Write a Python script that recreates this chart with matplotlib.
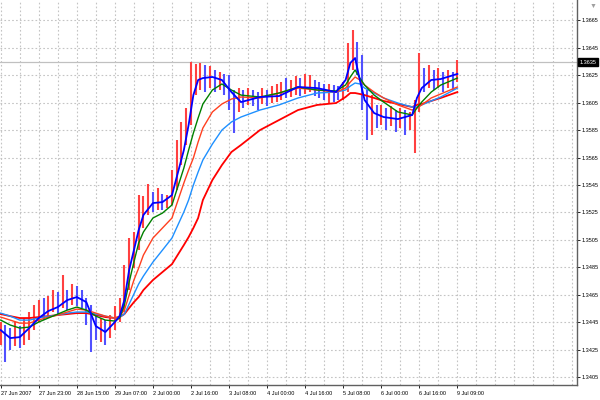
import numpy as np
import matplotlib.pyplot as plt
import matplotlib.transforms as mtransforms

########  data  ########

# price bars (one every 2 hours), x = bar index in hours
bar_high = [1.34451, 1.34429, 1.34407, 1.34451, 1.34421, 1.34480, 1.34524, 1.34575, 1.34611, 1.34626,
            1.34640, 1.34684, 1.34669, 1.34793, 1.34684, 1.34728, 1.34713, 1.34684, 1.34626, 1.34575,
            1.34502, 1.34480, 1.34465, 1.34502, 1.34567, 1.34626, 1.34866, 1.35063, 1.35107, 1.35376,
            1.35369, 1.35457, 1.35398, 1.35427, 1.35384, 1.35376, 1.35559, 1.35777, 1.35909, 1.36011,
            1.36346, 1.36331, 1.36339, 1.36324, 1.36317, 1.36288, 1.36273, 1.36259, 1.36251, 1.36142,
            1.36156, 1.36142, 1.36156, 1.36142, 1.36127, 1.36156, 1.36142, 1.36171, 1.36186, 1.36200,
            1.36229, 1.36215,
            1.36244, 1.36229, 1.36259, 1.36251, 1.36215, 1.36200, 1.36186, 1.36186, 1.36178,
            1.36171, 1.36200, 1.36485, 1.36579, 1.36492, 1.36397, 1.36142, 1.36105, 1.36033, 1.36033,
            1.36011, 1.36025, 1.35996, 1.36011, 1.35996, 1.35982, 1.36069, 1.36412, 1.36302, 1.36324,
            1.36288, 1.36302, 1.36273, 1.36288, 1.36273, 1.36361]
bar_low = [1.34283, 1.34159, 1.34246, 1.34276, 1.34261, 1.34283, 1.34319, 1.34392, 1.34451, 1.34465,
           1.34480, 1.34524, 1.34502, 1.34553, 1.34538, 1.34575, 1.34567, 1.34553, 1.34429, 1.34232,
           1.34319, 1.34305, 1.34283, 1.34334, 1.34392, 1.34451, 1.34524, 1.34684, 1.34844, 1.34975,
           1.35136, 1.35231, 1.35253, 1.35267, 1.35267, 1.35282, 1.35304, 1.35413, 1.35595, 1.35741,
           1.35887, 1.36105, 1.36142, 1.36127, 1.36156, 1.36127, 1.36142, 1.36105, 1.35996, 1.35828,
           1.35982, 1.36011, 1.36033, 1.36025, 1.35996, 1.36040, 1.36025, 1.36047, 1.36054, 1.36069,
           1.36084, 1.36091,
           1.36105, 1.36098, 1.36113, 1.36127, 1.36098, 1.36084, 1.36069, 1.36047, 1.36054,
           1.36069, 1.36069, 1.36127, 1.36288, 1.36251, 1.35996, 1.35777, 1.35814, 1.35865, 1.35887,
           1.35850, 1.35879, 1.35836, 1.35865, 1.35814, 1.35850, 1.35683, 1.35982, 1.36127, 1.36156,
           1.36142, 1.36156, 1.36127, 1.36156, 1.36142, 1.36200]
bar_close = [1.34378, 1.34334, 1.34319, 1.34349, 1.34334, 1.34378, 1.34451, 1.34480, 1.34538, 1.34524,
             1.34567, 1.34611, 1.34575, 1.34626, 1.34611, 1.34655, 1.34640, 1.34611, 1.34480, 1.34407,
             1.34378, 1.34392, 1.34363, 1.34421, 1.34465, 1.34538, 1.34720, 1.34888, 1.34990, 1.35180,
             1.35253, 1.35340, 1.35304, 1.35340, 1.35318, 1.35325, 1.35449, 1.35632, 1.35763, 1.35923,
             1.36178, 1.36229, 1.36229, 1.36215, 1.36244, 1.36200, 1.36215, 1.36186, 1.36069, 1.36040,
             1.36084, 1.36069, 1.36098, 1.36084, 1.36069, 1.36098, 1.36084, 1.36105, 1.36113, 1.36142,
             1.36127, 1.36149,
             1.36171, 1.36156, 1.36186, 1.36200, 1.36156, 1.36142, 1.36127, 1.36142, 1.36120,
             1.36113, 1.36142, 1.36361, 1.36433, 1.36361, 1.36105, 1.35923, 1.35982, 1.35938, 1.35960,
             1.35938, 1.35960, 1.35923, 1.35938, 1.35909, 1.35923, 1.35996, 1.36215, 1.36200, 1.36244,
             1.36215, 1.36229, 1.36200, 1.36229, 1.36215, 1.36346]

# moving averages
ma_x = [0, 4, 8, 12, 16, 20, 24, 28, 32, 36, 40, 44, 48, 50, 52, 54, 56, 58, 60, 64,
        68, 72, 77, 79, 81, 83, 85, 89, 93, 97, 101, 109, 117, 125, 133, 141, 145, 147, 149, 151,
        153, 157, 161, 167, 173, 175, 177, 181, 185, 192]
ma_blue = [1.34392, 1.34334, 1.34341, 1.34407, 1.34480, 1.34531, 1.34560, 1.34611, 1.34633, 1.34596,
           1.34421, 1.34378, 1.34451, 1.34494, 1.34611, 1.34830, 1.34975, 1.35121, 1.35231, 1.35318,
           1.35325, 1.35376, 1.35704, 1.35887, 1.36105, 1.36215, 1.36229, 1.36237, 1.36215, 1.36127,
           1.36054, 1.36091, 1.36098, 1.36164, 1.36156, 1.36127, 1.36215, 1.36339, 1.36375, 1.36215,
           1.36069, 1.35974, 1.35945, 1.35930, 1.35960, 1.36084, 1.36156, 1.36215, 1.36222, 1.36259]
ma_green = [1.34465, 1.34429, 1.34407, 1.34414, 1.34451, 1.34480, 1.34509, 1.34538, 1.34560, 1.34538,
            1.34494, 1.34465, 1.34458, 1.34480, 1.34575, 1.34742, 1.34888, 1.35027, 1.35107, 1.35209,
            1.35245, 1.35304, 1.35573, 1.35704, 1.35828, 1.35938, 1.36040, 1.36142, 1.36186, 1.36142,
            1.36105, 1.36091, 1.36120, 1.36164, 1.36142, 1.36135, 1.36178, 1.36237, 1.36288, 1.36229,
            1.36178, 1.36105, 1.36054, 1.35982, 1.35960, 1.36011, 1.36054, 1.36127, 1.36178, 1.36229]
ma_orange = [1.34487, 1.34465, 1.34443, 1.34443, 1.34465, 1.34487, 1.34502, 1.34524, 1.34545, 1.34538,
             1.34516, 1.34494, 1.34480, 1.34494, 1.34538, 1.34647, 1.34757, 1.34844, 1.34939, 1.35063,
             1.35136, 1.35209, 1.35464, 1.35559, 1.35646, 1.35763, 1.35865, 1.35982, 1.36040, 1.36076,
             1.36091, 1.36084, 1.36120, 1.36156, 1.36142, 1.36127, 1.36156, 1.36200, 1.36237, 1.36215,
             1.36178, 1.36127, 1.36084, 1.36033, 1.35996, 1.36011, 1.36033, 1.36084, 1.36113, 1.36164]
ma_lightblue = [1.34516, 1.34494, 1.34465, 1.34465, 1.34480, 1.34494, 1.34502, 1.34516, 1.34524, 1.34524,
                1.34509, 1.34494, 1.34480, 1.34487, 1.34509, 1.34582, 1.34655, 1.34728, 1.34786, 1.34888,
                1.34975, 1.35063, 1.35253, 1.35340, 1.35449, 1.35544, 1.35632, 1.35748, 1.35850, 1.35909,
                1.35945, 1.35996, 1.36033, 1.36084, 1.36120, 1.36127, 1.36142, 1.36171, 1.36193, 1.36186,
                1.36156, 1.36120, 1.36084, 1.36047, 1.36018, 1.36018, 1.36033, 1.36062, 1.36091, 1.36156]
ma_red = [1.34509, 1.34494, 1.34480, 1.34480, 1.34487, 1.34494, 1.34502, 1.34509, 1.34516, 1.34516,
          1.34502, 1.34487, 1.34480, 1.34487, 1.34509, 1.34553, 1.34596, 1.34633, 1.34684, 1.34757,
          1.34815, 1.34873, 1.35012, 1.35070, 1.35136, 1.35209, 1.35340, 1.35486, 1.35595, 1.35690,
          1.35741, 1.35850, 1.35923, 1.35996, 1.36033, 1.36047, 1.36091, 1.36120, 1.36120, 1.36113,
          1.36105, 1.36084, 1.36062, 1.36040, 1.36018, 1.36033, 1.36040, 1.36062, 1.36084, 1.36127]

time_labels = ["27 Jun 2007", "27 Jun 23:00", "28 Jun 15:00", "29 Jun 07:00", "2 Jul 00:00",
               "2 Jul 16:00", "3 Jul 08:00", "4 Jul 00:00", "4 Jul 16:00", "5 Jul 08:00",
               "6 Jul 00:00", "6 Jul 16:00", "9 Jul 09:00"]
price_ticks = [1.3405, 1.3425, 1.3445, 1.3465, 1.3485, 1.3505, 1.3525, 1.3545,
               1.3565, 1.3585, 1.3605, 1.3625, 1.3645, 1.3665]

########  plot  ########

plt.rcParams['font.family'] = ['Liberation Sans', 'DejaVu Sans']

fig = plt.figure(figsize=(6, 4), dpi=100)
ax = fig.add_axes([0, 15 / 400, 577 / 600, 385 / 400])

bx = np.arange(len(bar_close)) * 2
opens = [bar_close[0]] + bar_close[:-1]
cols = ['#ff4040' if c >= o else '#5050ff' for c, o in zip(bar_close, opens)]
ax.vlines(bx, bar_low, bar_high, colors=cols, lw=1.5, zorder=2)

ax.plot(ma_x, ma_red, color='#ff0000', lw=1.3, zorder=3)
ax.plot(ma_x, ma_lightblue, color='#1e90ff', lw=1.0, zorder=3)
ax.plot(ma_x, ma_orange, color='#ff4020', lw=1.0, zorder=3)
ax.plot(ma_x, ma_green, color='#008000', lw=1.0, zorder=3)
ax.plot(ma_x, ma_blue, color='#0000ff', lw=1.3, zorder=4)

last = bar_close[-1]
ax.axhline(last, color='#c0c0c0', lw=0.9, zorder=1)

ax.set_xlim(-0.3, 242.3)
ax.set_ylim(1.33992, 1.36798)

ax.set_xticks(np.arange(len(time_labels)) * 16)
ax.set_xticklabels(time_labels, ha='left')
ax.set_xticks(np.arange(0, 242, 8), minor=True)
ax.set_yticks(price_ticks)
ax.set_yticklabels(["%.4f" % p for p in price_ticks])
ax.yaxis.tick_right()

ax.tick_params(axis='both', which='major', labelsize=4, length=2.5, width=0.6, pad=1, colors='black')
ax.tick_params(axis='x', which='major', pad=1.5)
ax.tick_params(which='minor', length=0)
ax.grid(True, which='both', color='#c4c4c4', lw=0.8, linestyle=(0, (1.5, 2)), zorder=0)

for s in ['top', 'left']:
    ax.spines[s].set_visible(False)
for s in ['right', 'bottom']:
    ax.spines[s].set_color('#606060')
    ax.spines[s].set_linewidth(1.0)

trans = mtransforms.blended_transform_factory(ax.transAxes, ax.transData)
ax.text(1.004, last, "%.4f" % last, transform=trans, fontsize=4, color='white',
        va='center', ha='left',
        bbox=dict(boxstyle='square,pad=0.25', fc='black', ec='black'))

fig.text(0.988, 0.993, "\u25bc", fontsize=5, color='#a0a0a0', ha='center', va='top')

plt.savefig("out.png", dpi=100)
plt.close()
